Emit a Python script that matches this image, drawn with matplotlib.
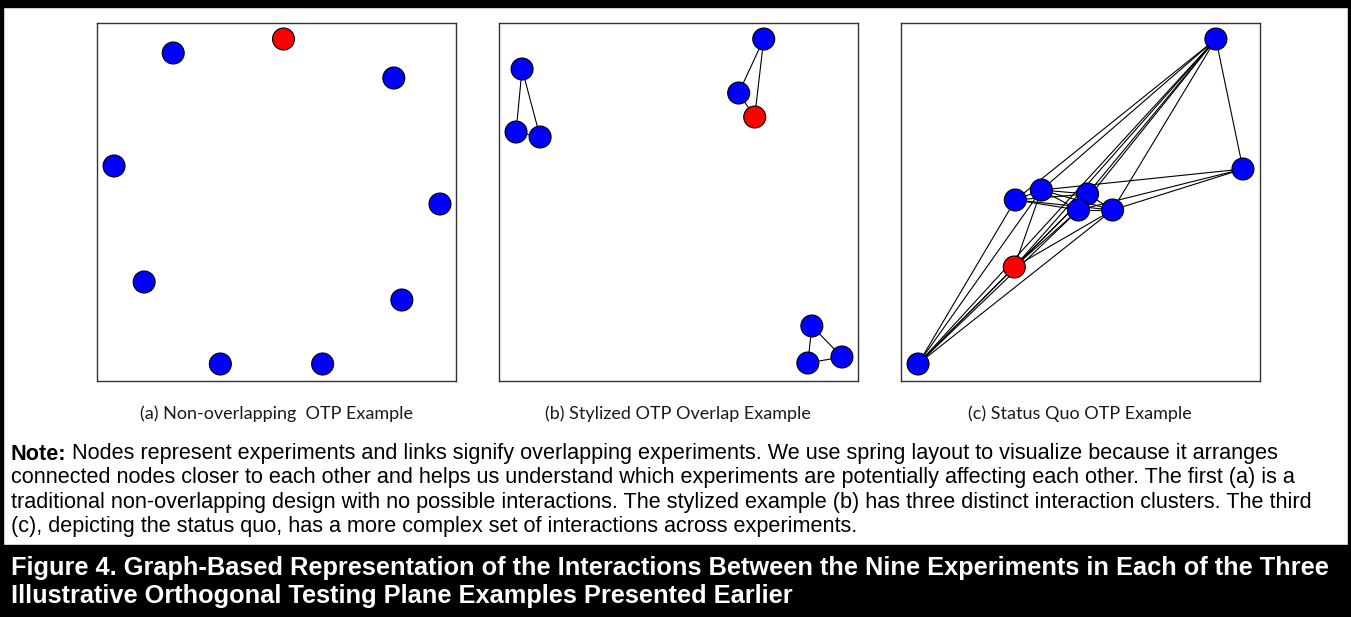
import matplotlib.pyplot as plt
from matplotlib.patches import Rectangle

W, H = 1351, 617

# node positions inside each panel (panel units, origin top-left, 0..358)
a_x = [76, 186, 296, 17, 342, 47, 304, 123, 225]
a_y = [30, 16, 55, 143, 181, 259, 277, 341, 341]
a_red = 1
a_edges = []

b_x = [264, 239, 255, 23, 17, 41, 312, 308, 342]
b_y = [16, 70, 94, 46, 109, 114, 303, 340, 334]
b_red = 2
b_edges = [(0, 1), (0, 2), (1, 2), (3, 4), (3, 5), (4, 5), (6, 7), (6, 8), (7, 8)]

c_x = [314, 341, 114, 140, 186, 177, 211, 113, 17]
c_y = [16, 146, 177, 167, 171, 187, 187, 244, 341]
c_red = 7
c_edges = [(0, 1), (0, 2), (0, 3), (0, 4), (0, 5), (0, 6), (0, 7), (0, 8),
           (1, 3), (1, 5), (1, 6),
           (2, 3), (2, 4), (2, 5), (2, 6), (3, 4), (3, 5), (3, 6), (4, 5), (4, 6), (5, 6),
           (7, 3), (7, 4), (7, 5), (7, 6), (7, 8),
           (8, 2), (8, 3), (8, 4), (8, 5), (8, 6)]

sub_titles = ["(a) Non-overlapping  OTP Example",
              "(b) Stylized OTP Overlap Example",
              "(c) Status Quo OTP Example"]

note_lines = [
    "Nodes represent experiments and links signify overlapping experiments. We use spring layout to visualize because it arranges",
    "connected nodes closer to each other and helps us understand which experiments are potentially affecting each other. The first (a) is a",
    "traditional non-overlapping design with no possible interactions. The stylized example (b) has three distinct interaction clusters. The third",
    "(c), depicting the status quo, has a more complex set of interactions across experiments.",
]
caption_lines = [
    "Figure 4. Graph-Based Representation of the Interactions Between the Nine Experiments in Each of the Three",
    "Illustrative Orthogonal Testing Plane Examples Presented Earlier",
]


def px_box(x0, y0, w, h):
    return [x0 / W, 1 - (y0 + h) / H, w / W, h / H]


def draw_graph(ax, xs, ys, red, edges):
    for i, j in edges:
        ax.plot([xs[i], xs[j]], [ys[i], ys[j]], color="black", lw=0.8, zorder=1)
    colors = ["#ff0000" if k == red else "#0000ff" for k in range(len(xs))]
    ax.scatter(xs, ys, s=250, c=colors, edgecolors="black", linewidths=0.8, zorder=2)
    ax.set_xlim(0, 358)
    ax.set_ylim(358, 0)
    ax.set_xticks([])
    ax.set_yticks([])
    for sp in ax.spines.values():
        sp.set_color("#333333")
        sp.set_linewidth(1.0)


fig = plt.figure(figsize=(W / 100, H / 100), dpi=100)

panels = [(97, a_x, a_y, a_red, a_edges),
          (499, b_x, b_y, b_red, b_edges),
          (901, c_x, c_y, c_red, c_edges)]
for left, xs, ys, red, edges in panels:
    ax = fig.add_axes(px_box(left, 23, 359, 358))
    draw_graph(ax, xs, ys, red, edges)

sub_x = [277, 678, 1080]
for x, t in zip(sub_x, sub_titles):
    fig.text(x / W, 1 - 419 / H, t, ha="center", va="baseline",
             fontsize=13, family="Lato", color="#1a1a1a")

# outer frame and caption band
fig.patches.append(Rectangle((0, 1 - 7 / H), 1, 7 / H, transform=fig.transFigure,
                             color="black", zorder=0))
fig.patches.append(Rectangle((0, 0), 3 / W, 1, transform=fig.transFigure,
                             color="black", zorder=0))
fig.patches.append(Rectangle((1 - 3 / W, 0), 3 / W, 1, transform=fig.transFigure,
                             color="black", zorder=0))
fig.patches.append(Rectangle((0, 0), 1, 72 / H, transform=fig.transFigure,
                             color="black", zorder=0))

renderer = fig.canvas.get_renderer()
note_y = [459.5, 483.5, 508, 532]
note_fs = 15.6
head = fig.text(11 / W, 1 - note_y[0] / H, "Note:", ha="left", va="baseline",
                fontsize=note_fs, family="Liberation Sans", weight="bold")
hw = head.get_window_extent(renderer).width
for k, (y, line) in enumerate(zip(note_y, note_lines)):
    x = 11 + (hw + 5 if k == 0 else 0)
    fig.text(x / W, 1 - y / H, line, ha="left", va="baseline",
             fontsize=note_fs, family="Liberation Sans")

for y, line in zip([575, 603], caption_lines):
    fig.text(11 / W, 1 - y / H, line, ha="left", va="baseline", color="white",
             fontsize=18.3, family="Liberation Sans", weight="bold")

fig.savefig("out.png", dpi=100)
